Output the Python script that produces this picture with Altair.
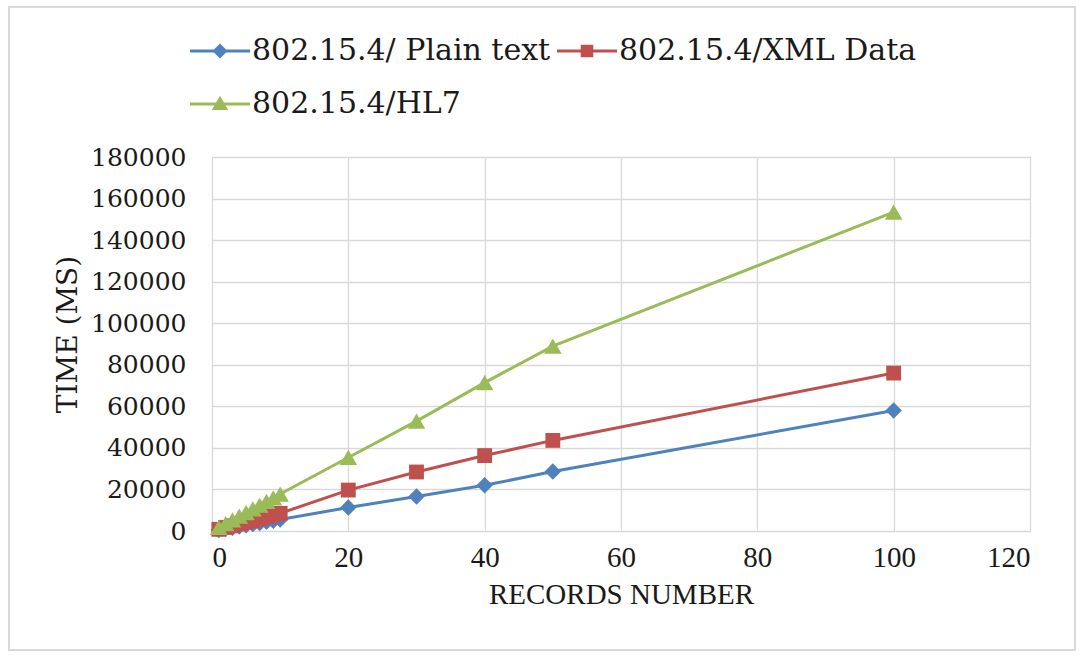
import altair as alt
import pandas as pd

records = [1, 2, 3, 4, 5, 6, 7, 8, 9, 10, 20, 30, 40, 50, 100]
plain_text = [500, 1100, 1600, 2200, 2700, 3300, 3800, 4400, 4900, 5500, 11300, 16600, 22000, 28600, 58000]
xml_data = [800, 1700, 2500, 3400, 4200, 5100, 5900, 6800, 7600, 8500, 19700, 28400, 36300, 43600, 76000]
hl7 = [1800, 3600, 5300, 7100, 8900, 10700, 12500, 14200, 16000, 17800, 35400, 52900, 71400, 89000, 153500]

series_names = ["802.15.4/ Plain text", "802.15.4/XML Data", "802.15.4/HL7"]
series_colors = ["#4F81BD", "#C0504D", "#9BBB59"]
marker_shapes = ["diamond", "square", "triangle-up"]
marker_sizes = [270, 220, 310]
x_ticks = [0, 20, 40, 60, 80, 100, 120]
y_ticks = [0, 20000, 40000, 60000, 80000, 100000, 120000, 140000, 160000, 180000]

# legend symbols: line segment + marker, as custom paths
legend_paths = [
    "M-2,-0.1H2V0.1H-2Z M0,-0.5L0.5,0L0,0.5L-0.5,0Z",
    "M-2,-0.1H2V0.1H-2Z M-0.42,-0.42H0.42V0.42H-0.42Z",
    "M-2,-0.1H2V0.1H-2Z M0,-0.55L0.55,0.4H-0.55Z",
]

rows = []
for name, vals in zip(series_names, [plain_text, xml_data, hl7]):
    for r, v in zip(records, vals):
        rows.append({"records": r, "time": v, "series": name})
df = pd.DataFrame(rows)

legend = alt.Legend(
    title=None, orient="none", direction="horizontal", legendX=-7, legendY=-121, columns=2,
    labelFont="DejaVu Serif", labelFontSize=30, labelColor="#1a1a1a",
    symbolSize=900, labelOffset=17, columnPadding=6, rowPadding=23,
    symbolStrokeWidth=0, labelLimit=600,
)
color = alt.Color("series:N", scale=alt.Scale(domain=series_names, range=series_colors),
                  sort=series_names, legend=legend)

x = alt.X("records:Q", scale=alt.Scale(domain=[0, 120], nice=False),
          axis=alt.Axis(values=x_ticks, title="RECORDS NUMBER", grid=True, domain=False, ticks=False,
                        labelFont="Liberation Serif", labelFontSize=29, labelColor="#1a1a1a", labelPadding=12,
                        titleFont="Liberation Serif", titleFontSize=29, titleFontWeight="normal",
                        titleColor="#1a1a1a", titlePadding=8, gridColor="#D9D9D9", gridWidth=1.3))
y = alt.Y("time:Q", scale=alt.Scale(domain=[0, 180000], nice=False),
          axis=alt.Axis(values=y_ticks, format="d", title="TIME (MS)", grid=True, domain=False, ticks=False,
                        labelFont="DejaVu Serif", labelFontSize=25, labelColor="#1a1a1a", labelPadding=26,
                        titleFont="DejaVu Serif", titleFontSize=28, titleFontWeight="normal",
                        titleColor="#1a1a1a", titlePadding=8, titleY=177,
                        gridColor="#D9D9D9", gridWidth=1.3))

base = alt.Chart(df)
lines = base.mark_line(strokeWidth=3).encode(x=x, y=y, color=color, detail="series:N")

point_layers = []
for name, shp, sz in zip(series_names, marker_shapes, marker_sizes):
    point_layers.append(
        base.transform_filter(alt.datum.series == name)
        .mark_point(shape=shp, filled=True, size=sz, opacity=1)
        .encode(x=x, y=y, color=color)
    )

legend_layer = base.transform_filter("datum.time < 0").mark_point(filled=True, opacity=1).encode(
    x=x, y=y, color=color,
    shape=alt.Shape("series:N", scale=alt.Scale(domain=series_names, range=legend_paths),
                    sort=series_names, legend=legend),
)

frame = alt.Chart(alt.Data(values=[{"k": 1}])).mark_rect(filled=False, stroke="#D9D9D9", strokeWidth=2).encode(
    x=alt.value(-203), x2=alt.value(863), y=alt.value(-150), y2=alt.value(493)
)

chart = alt.layer(frame, lines, *point_layers, legend_layer).properties(
    width=818, height=374,
    autosize=alt.AutoSizeParams(type="none"),
    padding={"left": 212, "top": 157, "right": 54, "bottom": 125},
).configure_view(stroke=None).configure(background="white")

chart.save("out.html", embed_options={"renderer": "svg", "actions": False})
